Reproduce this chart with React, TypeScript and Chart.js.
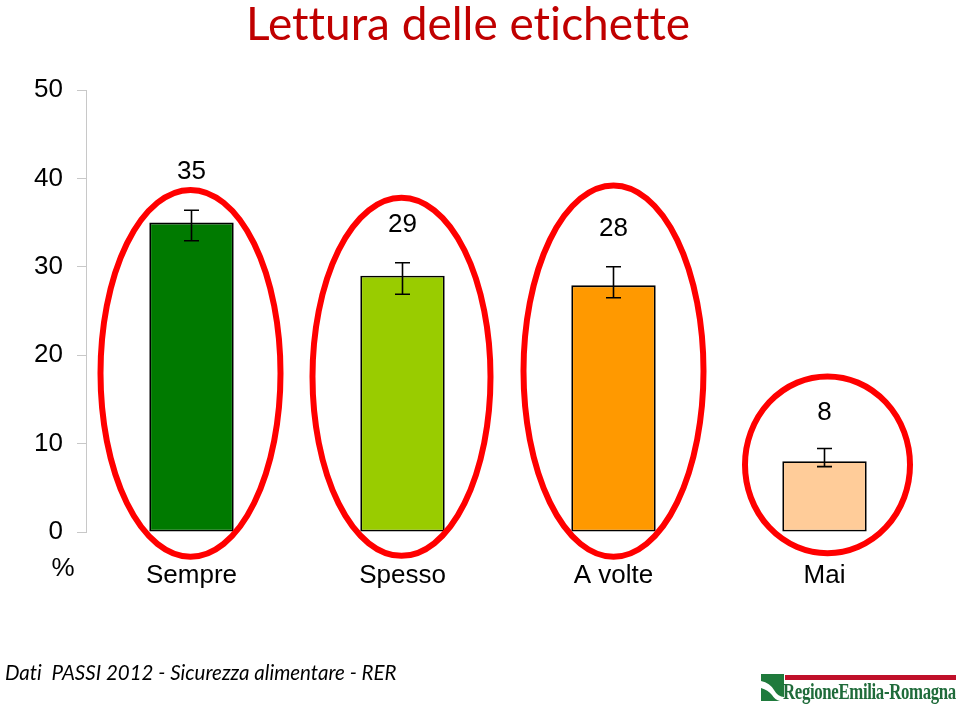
import React, { useEffect, useRef } from 'react';
import { Chart, registerables } from 'chart.js';

Chart.register(...registerables);

// ---- data ----
const categories = ['Sempre', 'Spesso', 'A volte', 'Mai'];
const values = [35.0, 29.0, 27.9, 8.0];
const errLow = [32.95, 26.9, 26.5, 7.4];
const errHigh = [36.4, 30.45, 30.0, 9.45];
const valueLabels = ['35', '29', '28', '8'];
const yTickValues = [0, 10, 20, 30, 40, 50];
const yUnitLabel = '%';
const titleText = 'Lettura delle etichette';
const footerText = 'Dati  PASSI 2012 - Sicurezza alimentare - RER';
const logoText = 'RegioneEmilia-Romagna';

// ---- styles ----
const barColors = ['#007a00', '#99cc00', '#ff9900', '#ffcc99'];
const FONT = '"Liberation Sans", Arial, sans-serif';

// ellipse annotations (value-space top/bottom, pixel radius x, pixel offset x)
const ellipses = [
  { top: 38.7, bottom: -2.8, rx: 90, dx: -1 },
  { top: 37.8, bottom: -2.7, rx: 89, dx: -1 },
  { top: 39.2, bottom: -2.8, rx: 90, dx: 0 },
  { top: 17.6, bottom: -2.4, rx: 82.5, dx: 3 },
];

const overlayPlugin = {
  id: 'overlay',
  afterDatasetsDraw(chart: any) {
    const ctx = chart.ctx;
    const xs = chart.scales.x;
    const ys = chart.scales.y;
    ctx.save();
    // error bars
    ctx.strokeStyle = '#000';
    ctx.lineWidth = 1.6;
    values.forEach((_, i) => {
      const x = xs.getPixelForValue(i);
      const yH = ys.getPixelForValue(errHigh[i]);
      const yL = ys.getPixelForValue(errLow[i]);
      ctx.beginPath();
      ctx.moveTo(x, yH);
      ctx.lineTo(x, yL);
      ctx.moveTo(x - 7.5, yH);
      ctx.lineTo(x + 7.5, yH);
      ctx.moveTo(x - 7.5, yL);
      ctx.lineTo(x + 7.5, yL);
      ctx.stroke();
    });
    // value labels
    ctx.fillStyle = '#000';
    ctx.font = `26px ${FONT}`;
    ctx.textAlign = 'center';
    ctx.textBaseline = 'middle';
    valueLabels.forEach((t, i) => {
      const x = xs.getPixelForValue(i);
      const y = ys.getPixelForValue(errHigh[i]) - (i === 3 ? 36 : 38);
      ctx.fillText(t, x, y);
    });
    // unit label
    ctx.fillText(yUnitLabel, ys.right - 23, ys.getPixelForValue(0) + 37);
    // ellipses
    ctx.strokeStyle = '#ff0000';
    ctx.lineWidth = 6;
    ellipses.forEach((e, i) => {
      const cx = xs.getPixelForValue(i) + e.dx;
      const yT = ys.getPixelForValue(e.top);
      const yB = ys.getPixelForValue(e.bottom);
      ctx.beginPath();
      ctx.ellipse(cx, (yT + yB) / 2, e.rx, (yB - yT) / 2, 0, 0, Math.PI * 2);
      ctx.stroke();
    });
    ctx.restore();
  },
};

function ChartCanvas() {
  const ref = useRef<HTMLCanvasElement | null>(null);
  useEffect(() => {
    if (!ref.current) return;
    const chart = new Chart(ref.current, {
      type: 'bar',
      data: {
        labels: categories,
        datasets: [
          {
            data: values,
            backgroundColor: barColors,
            borderColor: '#000',
            borderWidth: 1.8,
            borderSkipped: false,
            barPercentage: 0.4,
            categoryPercentage: 1,
          },
        ],
      },
      options: {
        animation: false,
        responsive: false,
        maintainAspectRatio: false,
        layout: { padding: { top: 90, right: 30, left: 0, bottom: 0 } },
        plugins: {
          legend: { display: false },
          tooltip: { enabled: false },
          title: { display: false },
        },
        scales: {
          x: {
            grid: { display: false, drawTicks: false },
            border: { display: false },
            ticks: {
              color: '#000',
              font: { family: FONT, size: 26 },
              padding: 28,
              maxRotation: 0,
            },
            afterFit(scale: any) {
              scale.height = 173;
            },
          },
          y: {
            min: 0,
            max: 50,
            afterBuildTicks(scale: any) {
              scale.ticks = yTickValues.map((v) => ({ value: v }));
            },
            grid: {
              drawOnChartArea: false,
              drawTicks: true,
              tickLength: 9,
              color: '#c8c8c8',
              lineWidth: 1,
            },
            border: { display: true, color: '#c8c8c8', width: 1 },
            ticks: {
              color: '#000',
              font: { family: FONT, size: 26 },
              padding: 14,
            },
            afterFit(scale: any) {
              scale.width = 86;
            },
          },
        },
      },
      plugins: [overlayPlugin],
    });
    return () => chart.destroy();
  }, []);
  return <canvas ref={ref} width={960} height={705} style={{ position: 'absolute', left: 0, top: 0 }} />;
}

export default function App() {
  return (
    <div
      style={{
        position: 'fixed',
        left: 0,
        top: 0,
        width: 960,
        height: 705,
        background: '#fff',
        overflow: 'hidden',
      }}
    >
      <ChartCanvas />
      <div
        style={{
          position: 'absolute',
          left: 0,
          width: 936,
          top: -5,
          textAlign: 'center',
          color: '#c00000',
          fontFamily: 'Lato, "Open Sans", sans-serif',
          fontSize: 46,
          lineHeight: '56px',
          whiteSpace: 'nowrap',
          fontVariantLigatures: 'none',
          fontFeatureSettings: '"liga" 0',
        }}
      >
        {titleText}
      </div>
      <div
        style={{
          position: 'absolute',
          left: 5,
          top: 659,
          color: '#000',
          fontFamily: 'Lato, "Open Sans", sans-serif',
          fontStyle: 'italic',
          fontSize: 20.5,
          lineHeight: '26px',
          whiteSpace: 'pre',
          fontVariantLigatures: 'none',
        }}
      >
        {footerText}
      </div>
      <div style={{ position: 'absolute', left: 761, top: 674, width: 196, height: 30 }}>
        <svg width={25} height={28} style={{ position: 'absolute', left: 0, top: 0 }}>
          <rect x={0} y={0} width={23} height={27} fill="#1f7a3c" />
          <path d="M0 7 Q9 9 13 16 Q17 23 23 23 L23 27 L0 27 Z" fill="#ffffff" />
          <path d="M0 14 Q7 16 11 21 Q14 26 19 27 L0 27 Z" fill="#1f7a3c" />
        </svg>
        <div style={{ position: 'absolute', left: 24, top: 1, width: 171, height: 5, background: '#c0102a' }} />
        <div
          style={{
            position: 'absolute',
            left: 22,
            top: 4,
            color: '#1f6b3a',
            fontFamily: '"Liberation Serif", "DejaVu Serif", serif',
            fontWeight: 'bold',
            fontSize: 24,
            lineHeight: '26px',
            whiteSpace: 'nowrap',
            transform: 'scaleX(0.7)',
            transformOrigin: 'left top',
            letterSpacing: '-0.5px',
          }}
        >
          {logoText}
        </div>
      </div>
    </div>
  );
}
